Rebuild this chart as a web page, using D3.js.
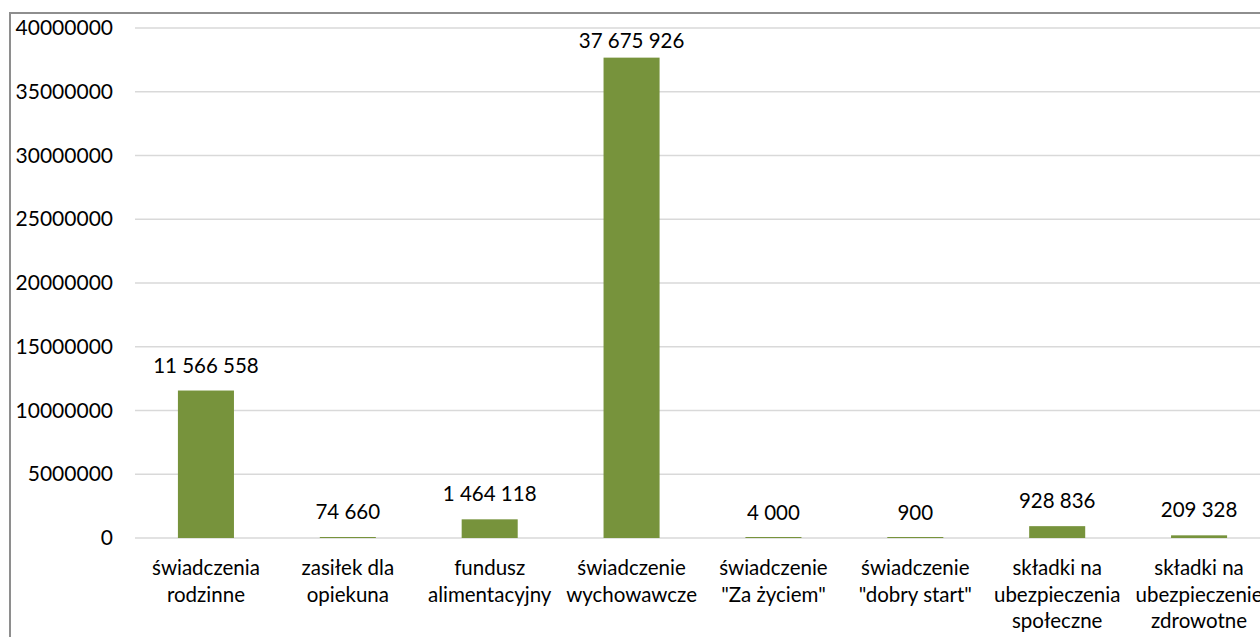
<!DOCTYPE html>
<html>
<head>
<meta charset="utf-8">
<script src="https://cdn.jsdelivr.net/npm/d3@7"></script>
<style>
  html, body { margin: 0; padding: 0; background: #fff; overflow: hidden; }
  svg { display: block; font-family: Lato, "Open Sans", sans-serif; }
</style>
</head>
<body>
<div id="chart"></div>
<script>
'use strict';

var categories = [
  ['świadczenia', 'rodzinne'],
  ['zasiłek dla', 'opiekuna'],
  ['fundusz', 'alimentacyjny'],
  ['świadczenie', 'wychowawcze'],
  ['świadczenie', '"Za życiem"'],
  ['świadczenie', '"dobry start"'],
  ['składki na', 'ubezpieczenia', 'społeczne'],
  ['składki na', 'ubezpieczenie', 'zdrowotne']
];
var values = [11566558, 74660, 1464118, 37675926, 4000, 900, 928836, 209328];
var yTicks = [0, 5000000, 10000000, 15000000, 20000000, 25000000, 30000000, 35000000, 40000000];

var svgWidth = 1260, svgHeight = 637;
var plot = { left: 135, right: 1270, top: 28, bottom: 538 };
var fontSize = 20.5;

var svg = d3.select('#chart').append('svg')
    .attr('width', svgWidth)
    .attr('height', svgHeight);

// chart frame (only the left and top edges are inside the picture)
svg.append('rect')
    .attr('x', 10).attr('y', 13)
    .attr('width', 1400).attr('height', 800)
    .attr('fill', 'none')
    .attr('stroke', '#8e8e8e')
    .attr('stroke-width', 2);

var x = d3.scaleBand()
    .domain(d3.range(categories.length))
    .range([plot.left, plot.right])
    .paddingInner(0.605)
    .paddingOuter(0.3025);

var y = d3.scaleLinear()
    .domain([0, 40000000])
    .range([plot.bottom, plot.top]);

// gridlines
svg.append('g').selectAll('line')
    .data(yTicks)
    .enter().append('line')
    .attr('x1', plot.left).attr('x2', plot.right)
    .attr('y1', function(d) { return y(d); })
    .attr('y2', function(d) { return y(d); })
    .attr('stroke', '#d9d9d9')
    .attr('stroke-width', 1.5);

// y axis labels
var yAxis = d3.axisLeft(y).tickValues(yTicks).tickSize(0).tickPadding(0)
    .tickFormat(function(d) { return d3.format('d')(d); });
var gy = svg.append('g')
    .attr('transform', 'translate(113,0)')
    .call(yAxis);
gy.select('.domain').remove();
gy.selectAll('text')
    .attr('fill', '#000')
    .style('font-size', '21px')
    .style('font-family', 'Lato, "Open Sans", sans-serif');

// bars
svg.append('g').selectAll('rect')
    .data(values)
    .enter().append('rect')
    .attr('x', function(d, i) { return x(i); })
    .attr('y', function(d) { return Math.min(y(d), y(0) - 1); })
    .attr('width', x.bandwidth())
    .attr('height', function(d) { return Math.max(y(0) - y(d), 1); })
    .attr('fill', '#77933c');

// value labels
var spaced = function(v) { return d3.format(',')(v).replace(/,/g, ' '); };
svg.append('g').selectAll('text')
    .data(values)
    .enter().append('text')
    .attr('x', function(d, i) { return x(i) + x.bandwidth() / 2; })
    .attr('y', function(d) { return Math.max(y(d) - 18, 48); })
    .attr('text-anchor', 'middle')
    .style('font-size', fontSize + 'px')
    .text(spaced);

// category labels
var cat = svg.append('g').selectAll('text')
    .data(categories)
    .enter().append('text')
    .attr('text-anchor', 'middle')
    .style('font-size', fontSize + 'px')
    .attr('transform', function(d, i) { return 'translate(' + (x(i) + x.bandwidth() / 2) + ',575)'; });
cat.selectAll('tspan')
    .data(function(d) { return d; })
    .enter().append('tspan')
    .attr('x', 0)
    .attr('y', function(d, j) { return j * 26.5; })
    .text(function(d) { return d; });
</script>
</body>
</html>
